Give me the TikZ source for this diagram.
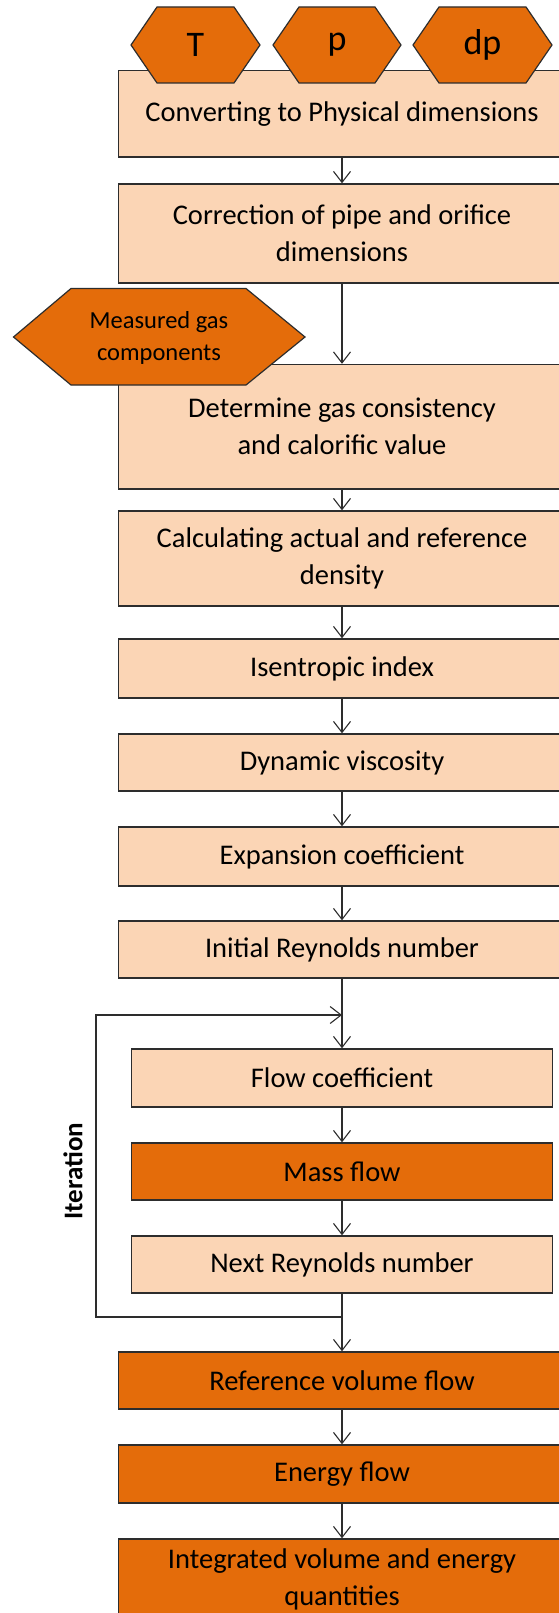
\documentclass[tikz,border=0pt]{standalone}
\usepackage{fontspec}
\setmainfont{Carlito}
\usetikzlibrary{arrows.meta}
\definecolor{light}{RGB}{251, 213, 181}
\definecolor{dark}{RGB}{228, 108, 10}
\definecolor{edge}{RGB}{45, 45, 45}

\begin{document}
\begin{tikzpicture}[x=1pt, y=-1pt,
    box/.style={draw=edge, line width=1.4, fill=light, align=center, inner sep=0pt,
      minimum width=447pt, font=\fontsize{28.5}{37}\selectfont},
    inbox/.style={box, minimum width=421pt},
    hot/.style={fill=dark},
    hexa/.style={draw=edge, line width=1.2, fill=dark},
    flow/.style={draw=edge, line width=1.1,
      -{Straight Barb[length=11pt, width=17pt, line width=1.1pt]}}]
  \useasboundingbox (0, 0) rectangle (559, 1613);
  \clip (0, 0) rectangle (559, 1613);
  \fill[white] (0, 0) rectangle (559, 1613);

  \pgfmathsetmacro{\xc}{342}

  \node[box, minimum height=86.4pt] (conv) at (\xc, 113.8) {Converting to Physical dimensions};
  \node[box, minimum height=99pt] (corr) at (\xc, 233.5) {Correction of pipe and orifice\\dimensions};
  \node[box, minimum height=124.5pt] (consist) at (\xc, 426.75) {Determine gas consistency\\and calorific value};
  \node[box, minimum height=95pt] (dens) at (\xc, 558.5) {Calculating actual and reference\\density};
  \node[box, minimum height=59pt] (isen) at (\xc, 668.5) {Isentropic index};
  \node[box, minimum height=57pt] (visc) at (\xc, 762.5) {Dynamic viscosity};
  \node[box, minimum height=59pt] (expa) at (\xc, 856.5) {Expansion coefficient};
  \node[box, minimum height=57pt] (initre) at (\xc, 949.5) {Initial Reynolds number};
  \node[inbox, minimum height=58pt] (flowc) at (\xc, 1078) {Flow coefficient};
  \node[inbox, hot, minimum height=57pt] (mass) at (\xc, 1171.5) {Mass flow};
  \node[inbox, minimum height=57pt] (nextre) at (\xc, 1264.5) {Next Reynolds number};
  \node[box, hot, minimum height=57pt] (refvol) at (\xc, 1380.5) {Reference volume flow};
  \node[box, hot, minimum height=58pt] (energy) at (\xc, 1474) {Energy flow};
  \node[box, hot, minimum height=81pt] (integ) at (\xc, 1579.5) {Integrated volume and energy\\quantities};

  \foreach \a/\b in {conv/corr, corr/consist, consist/dens, dens/isen, isen/visc,
      visc/expa, expa/initre, initre/flowc, flowc/mass, mass/nextre,
      nextre/refvol, refvol/energy, energy/integ} {
    \draw[flow] (\a) -- (\b);
  }

  \coordinate (loopin) at (\xc, 1015);
  \coordinate (loopout) at (\xc, 1317);
  \coordinate (cornerlo) at (96, 1317);
  \coordinate (cornerup) at (96, 1015);
  \draw[flow] (loopout) -- (cornerlo) -- (cornerup) -- (loopin);
  \node[rotate=90, font=\bfseries\fontsize{27}{30}\selectfont] (iter) at (73, 1171) {Iteration};

  \foreach \name/\l/\r/\txt in {hexT/131/260/T, hexp/273/401/p, hexdp/413/552/dp} {
    \path[hexa] (\l, 45) -- (\l + 26, 7) -- (\r - 26, 7) -- (\r, 45)
      -- (\r - 26, 83) -- (\l + 26, 83) -- cycle;
    \node[font=\fontsize{36}{40}\selectfont] (\name) at ({(\l + \r) / 2}, 45) {\txt};
  }

  \path[hexa] (13.5, 337) -- (71, 288.5) -- (246, 288.5) -- (305, 337)
    -- (246, 385) -- (71, 385) -- cycle;
  \node[align=center, font=\fontsize{24.5}{32}\selectfont] (gascomp) at (159, 338)
    {Measured gas\\components};

\end{tikzpicture}
\end{document}
